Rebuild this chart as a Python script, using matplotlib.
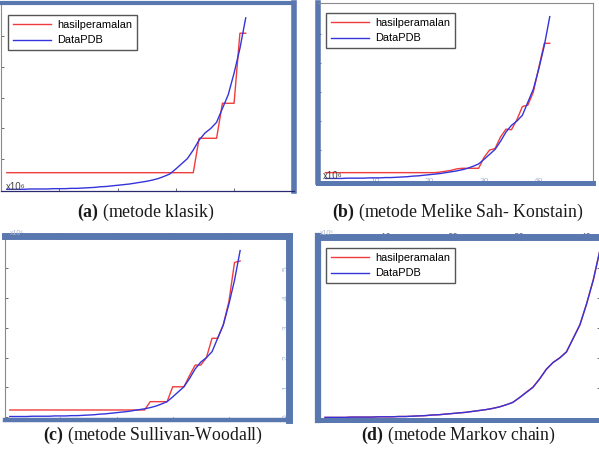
import matplotlib
matplotlib.use("Agg")
import matplotlib.pyplot as plt

# ---------------- data (values in units of 10^6) ----------------
years = list(range(1, 43))
data_pdb = [0.02, 0.02, 0.02, 0.02, 0.03, 0.03, 0.03, 0.03, 0.04, 0.04,
            0.04, 0.05, 0.05, 0.06, 0.07, 0.08, 0.10, 0.11, 0.13, 0.15,
            0.17, 0.19, 0.22, 0.25, 0.28, 0.32, 0.37, 0.44, 0.52, 0.68,
            0.85, 1.02, 1.30, 1.62, 1.85, 2.00, 2.20, 2.65, 3.10, 3.80,
            4.60, 5.60]
klasik = [0.56] * 33 + [1.68, 1.68, 1.68, 1.68, 2.82, 2.82, 2.82, 5.10, 5.10]
melike = [0.22] * 21 + [0.24, 0.27, 0.30, 0.35, 0.37, 0.37, 0.37, 0.37, 0.75,
                        1.00, 1.05, 1.45, 1.72, 1.70, 2.05, 2.50, 2.55, 3.00,
                        3.85, 4.68, 4.68]
sullivan = [0.24] * 25 + [0.52, 0.52, 0.52, 0.52, 1.02, 1.02, 1.02, 1.40, 1.75,
                          1.75, 2.00, 2.65, 2.65, 3.10, 3.88, 5.20, 5.25]
markov = [0.02, 0.02, 0.02, 0.02, 0.03, 0.03, 0.03, 0.03, 0.04, 0.04,
          0.04, 0.05, 0.05, 0.06, 0.07, 0.08, 0.10, 0.11, 0.13, 0.15,
          0.17, 0.19, 0.22, 0.25, 0.28, 0.32, 0.37, 0.44, 0.52, 0.68,
          0.86, 1.03, 1.31, 1.63, 1.85, 2.01, 2.21, 2.66, 3.11, 3.81,
          4.61, 5.60]
legend_labels = ["hasilperamalan", "DataPDB"]
caption_letters = ["(a)", "(b)", "(c)", "(d)"]
caption_texts = ["(metode klasik)", "(metode Melike Sah- Konstain)",
                 "(metode Sullivan-Woodall)", "(metode Markov chain)"]
xticks = [10, 20, 30, 40, 50]
xticklabels = ["10", "20", "30", "40", "50"]
yticks = [0, 1, 2, 3, 4, 5, 6]
yticklabels = ["0", "1", "2", "3", "4", "5", "6"]
exp_label = "x10\u2076"

# ---------------- styling ----------------
plt.rcParams["mathtext.fontset"] = "custom"
plt.rcParams["mathtext.rm"] = "Liberation Serif"
plt.rcParams["mathtext.bf"] = "Liberation Serif:bold"

W, H = 599, 451
fig = plt.figure(figsize=(W / 100, H / 100), dpi=100)
fig.patch.set_facecolor("white")

BAR = "#5a78b0"
THIN = "#8a8a8a"
RED = "#f03c3c"
BLUE = "#3434dc"
SANS = ["Liberation Sans", "DejaVu Sans"]


def add_ax(l, t, r, b):
    return fig.add_axes([l / W, 1 - b / H, (r - l) / W, (b - t) / H])


panels = [
    dict(box=(1, 2.5, 293.5, 190.5), xlim=(0, 50.2), ylim=(-0.02, 6.1), fc=klasik,
         spines=dict(left=(THIN, 0.8), bottom=("#2a2a70", 0.9), top=(BAR, 3.0), right=(BAR, 4.0)),
         legend=(8, 15)),
    dict(box=(318, 3, 593, 182.5), xlim=(-0.35, 49.9), ylim=(-0.12, 6.07), fc=melike,
         spines=dict(left=(BAR, 4.0), bottom=(BAR, 3.6), top=(THIN, 0.8), right=(THIN, 0.8)),
         legend=(326, 13)),
    dict(box=(5, 236, 289, 419.5), xlim=(0.15, 50.7), ylim=(-0.08, 6.09), fc=sullivan,
         spines=dict(left=(THIN, 0.8), bottom=(BAR, 3.2), top=(BAR, 5.0), right=(BAR, 5.0)),
         legend=None),
    dict(box=(318, 236.5, 600, 419.5), xlim=(-0.05, 42.0), ylim=(-0.05, 6.05), fc=markov,
         spines=dict(left=(BAR, 4.5), bottom=(BAR, 3.6), top=(BAR, 5.0), right=(BAR, 0.0)),
         legend=(326, 248)),
]

axes = []
for p in panels:
    ax = add_ax(*p["box"])
    ax.set_facecolor("white")
    ax.plot(years, p["fc"], color=RED, lw=1.0, label=legend_labels[0], zorder=2)
    ax.plot(years, data_pdb, color=BLUE, lw=1.0, label=legend_labels[1], zorder=3)
    for side, (col, lw) in p["spines"].items():
        ax.spines[side].set_color(col)
        ax.spines[side].set_linewidth(lw)
        if lw == 0:
            ax.spines[side].set_visible(False)
        ax.spines[side].set_zorder(4)
    ax.set_xticks([t for t in xticks if t <= p["xlim"][1]])
    ax.set_yticks(yticks[1:6])
    ax.tick_params(direction="in", length=2.5, width=0.6, colors="#555555")
    ax.set_xticklabels([])
    ax.set_yticklabels([])
    if p["legend"] is not None:
        lx, ly = p["legend"]
        leg = ax.legend(loc="upper left", bbox_to_anchor=(lx / W, 1 - ly / H),
                        bbox_transform=fig.transFigure, frameon=True, fancybox=False,
                        edgecolor="#555555", framealpha=1.0,
                        prop=dict(family=SANS, size=7.9), handlelength=3.5,
                        handletextpad=0.5, borderpad=0.45, labelspacing=0.5,
                        borderaxespad=0)
        leg.get_frame().set_linewidth(1.0)
        leg.set_zorder(5)
    axes.append(ax)

ax_a, ax_b, ax_c, ax_d = axes

# panel a: ticks bottom / left only
ax_a.tick_params(top=False, right=False)

# panel b: faint bottom labels sitting in the bar
ax_b.tick_params(top=False, right=False)
ax_b.set_xticks(xticks)
ax_b.set_xticklabels(xticklabels, family=SANS, fontsize=6, color="#aab6d2")
ax_b.tick_params(axis="x", pad=-3.5)

# panel c: top labels + right labels (faint)
ax_c.xaxis.set_ticks_position("both")
ax_c.tick_params(axis="x", labeltop=True, labelbottom=False, pad=-4.5)
ax_c.set_xticks(xticks)
ax_c.set_xticklabels(xticklabels, family=SANS, fontsize=6, color="#aab6d2")
ax_c.set_yticks(yticks[:6])
ax_c.yaxis.set_ticks_position("both")
ax_c.tick_params(axis="y", labelright=True, labelleft=False, pad=-4.5)
ax_c.set_yticklabels(yticklabels[:6], family=SANS, fontsize=6,
                     color="#aab6d2", rotation=90, va="center")

# panel d: top ticks/labels, right ticks
ax_d.tick_params(bottom=False, left=False, top=True, right=True)
ax_d.tick_params(axis="x", labeltop=True, labelbottom=False, pad=-4.5)
ax_d.set_xticks(xticks[:4])
ax_d.set_xticklabels(xticklabels[:4], family=SANS, fontsize=7, color="#5d6a88")

# re-apply limits (setting ticks may widen them)
for ax, p in zip(axes, panels):
    ax.set_xlim(*p["xlim"])
    ax.set_ylim(*p["ylim"])

# exponent labels
fig.text(16 / W, 1 - 187 / H, exp_label, family=SANS, fontsize=7, color="#444444",
         ha="center", va="center")
fig.text(333 / W, 1 - 176 / H, exp_label, family=SANS, fontsize=7, color="#444444",
         ha="center", va="center")
fig.text(17 / W, 1 - 234 / H, exp_label, family=SANS, fontsize=5, color="#a9b4cc",
         ha="center", va="center")
fig.text(327 / W, 1 - 234 / H, exp_label, family=SANS, fontsize=5, color="#a9b4cc",
         ha="center", va="center")

# captions
cap_pos = [(146, 212), (458, 212), (153, 435), (458, 435)]
for (cx, cy), let, txt in zip(cap_pos, caption_letters, caption_texts):
    fig.text(cx / W, 1 - cy / H, r"$\mathbf{" + let + "}$ " + txt,
             family="Liberation Serif", fontsize=12.8, color="#1a1a1a",
             ha="center", va="center")

fig.savefig("out.png", dpi=100, facecolor="white")
